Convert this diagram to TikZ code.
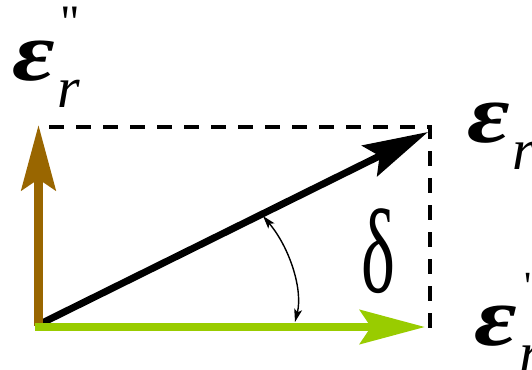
\documentclass[tikz,border=0pt]{standalone}
\usepackage{fontspec}
\setmainfont{Liberation Serif}
\newfontfamily\quotefont{Liberation Serif}
\usetikzlibrary{arrows.meta}
\definecolor{vbrown}{RGB}{153,102,0}
\definecolor{vgreen}{RGB}{153,204,0}
\newcommand{\epsbig}{\scalebox{1.3}[1.05]{\fontsize{80}{80}\selectfont\bfseries\itshape ε}}
\newcommand{\rsub}{{\fontsize{58}{58}\selectfont\itshape r}}
\tikzset{
  bigtip/.style={-{Stealth[length=65pt,width=34pt,inset=11pt]}},
  vec/.style={bigtip, line cap=butt},
  guide/.style={line width=3.5pt, dash pattern=on 15pt off 12pt},
  angarrow/.style={line width=1.4pt, {Stealth[length=13pt,width=8pt,inset=3pt]}-{Stealth[length=13pt,width=8pt,inset=3pt]}},
  lbl/.style={inner sep=0pt, anchor=base west}
}
\begin{document}
\begin{tikzpicture}[x=1pt,y=-1pt]
\useasboundingbox (0,0) rectangle (532,369);
\coordinate (O) at (38,325);
\coordinate (Ob) at (38.5,326);
\coordinate (Og) at (35,327);
\coordinate (Tb) at (38.5,125);
\coordinate (Tg) at (425,327);
\coordinate (Tk) at (428,132);
\coordinate (C1) at (49,127);
\coordinate (C2) at (430,127);
\coordinate (C3) at (430,334);
\coordinate (A1) at (263,216);
\coordinate (A2) at (295,322);
% dashed guides
\draw[guide] (C1) -- (C2) -- (C3);
% vectors
\draw[vec, line width=7pt, black] (O) -- (Tk);
\draw[vec, line width=9pt, vbrown] (Ob) -- (Tb);
\draw[vec, line width=8pt, vgreen] (Og) -- (Tg);
% angle
\draw[angarrow] (A1) .. controls (290,248) and (303,290) .. (A2);
% labels
\node[lbl] (L1) at (12,80) {\epsbig\kern3pt\raisebox{-27pt}{\rsub}};
\node[inner sep=0pt, anchor=north] (P1) at (70,7) {{\quotefont\fontsize{48}{48}\selectfont "}};
\node[lbl] (L2) at (467,142) {\epsbig\kern3pt\raisebox{-27pt}{\rsub}};
\node[lbl] (L3) at (474,345) {\epsbig\kern3pt\raisebox{-27pt}{\rsub}};
\node[inner sep=0pt, anchor=north] (P3) at (528,273) {{\quotefont\fontsize{40}{40}\selectfont '}};
\node[inner sep=0pt, xscale=0.6] (D) at (378,251) {{\fontsize{120}{120}\selectfont δ}};
\end{tikzpicture}
\end{document}
